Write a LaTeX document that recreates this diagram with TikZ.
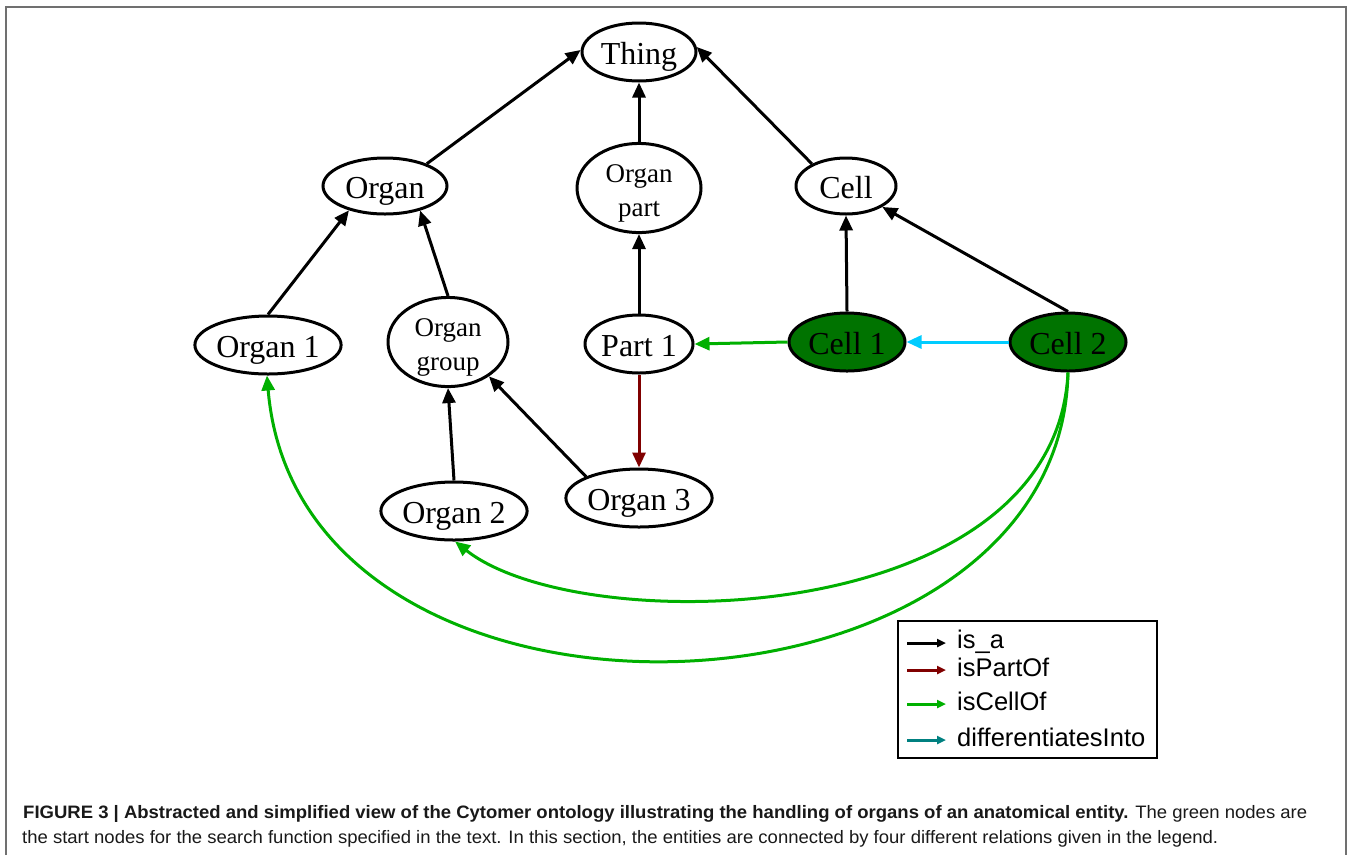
\documentclass[tikz,border=0pt]{standalone}
\usepackage{fontspec}
\setmainfont{Liberation Serif}
\newfontfamily\legfont{Liberation Sans}
\newfontfamily\capfont{Liberation Sans}
\usetikzlibrary{arrows.meta,shapes.geometric}
\definecolor{framegray}{RGB}{112,112,112}
\definecolor{cellgreen}{RGB}{0,115,0}
\definecolor{relgreen}{RGB}{0,176,0}
\definecolor{relred}{RGB}{128,0,0}
\definecolor{relcyan}{RGB}{0,204,255}
\definecolor{relteal}{RGB}{0,128,128}
\definecolor{captext}{RGB}{25,25,25}
\newlength\capw
\newcommand\capA{\textbf{FIGURE 3 | Abstracted and simplified view of the Cytomer ontology illustrating the handling of organs of an anatomical entity.} The green nodes are}
\newcommand\capB{the start nodes for the search function specified in the text. In this section, the entities are connected by four different relations given in the legend.}
\newcommand\capsize{\capfont\fontsize{18}{22}\selectfont}

\begin{document}
\settowidth{\capw}{\capsize\capA}%
\pgfmathsetmacro\capfac{1284/\capw}%
\begin{tikzpicture}[x=1pt,y=-1pt,
  ent/.style={ellipse,draw=black,line width=3pt,inner sep=0pt,
    font=\fontsize{32}{36}\selectfont,text height=24pt,text depth=0pt},
  ent2/.style={ent,align=center,font=\fontsize{27}{34}\selectfont,
    text height=60pt,text depth=3pt},
  startent/.style={ent,fill=cellgreen},
  rel/.style={line width=3pt,-{Triangle[length=15pt,width=13pt]}},
  isa/.style={rel,draw=black},
  partof/.style={rel,draw=relred},
  cellof/.style={rel,draw=relgreen},
  diffinto/.style={rel,draw=relcyan},
  legarrow/.style={line width=3pt,-{Triangle[length=9pt,width=8pt]}},
  legtext/.style={anchor=base west,inner sep=0pt,
    font=\legfont\fontsize{25.5}{30}\selectfont},
  captext/.style={anchor=base west,inner sep=0pt,text=captext}
]
\useasboundingbox (0,0) rectangle (1348,855);

% outer frame, open at the bottom
\draw[framegray,line width=2pt] (6,855) -- (6,7) -- (1346,7) -- (1346,855);

% entities
\node[ent,minimum width=114pt,minimum height=58pt] (thing) at (639,52) {Thing};
\node[ent,minimum width=124pt,minimum height=56pt] (organ) at (385,186) {Organ};
\node[ent2,minimum width=124pt,minimum height=86pt] (organpart) at (639,188) {Organ\\part};
\node[ent,minimum width=100pt,minimum height=56pt] (cell) at (846,186) {Cell};
\node[ent,minimum width=142pt,minimum height=58pt] (organ1) at (268,345) {Organ 1};
\node[ent2,minimum width=120pt,minimum height=84pt] (organgroup) at (448,342) {Organ\\group};
\node[ent,minimum width=108pt,minimum height=58pt] (part1) at (639,344) {Part 1};
\node[startent,minimum width=116pt,minimum height=58pt] (cell1) at (847,342) {Cell 1};
\node[startent,minimum width=116pt,minimum height=58pt] (cell2) at (1068,342) {Cell 2};
\node[ent,minimum width=140pt,minimum height=58pt] (organ2) at (454,511) {Organ 2};
\node[ent,minimum width=138pt,minimum height=58pt] (organ3) at (639,498) {Organ 3};

% is_a relations
\draw[isa] (organ.28) -- (thing.178);
\draw[isa] (organpart.north) -- (thing.south);
\draw[isa] (cell.147) -- (thing.5);
\draw[isa] (organ1.north) -- (organ.214);
\draw[isa] (organgroup.north) -- (organ.-35);
\draw[isa] (part1.north) -- (organpart.south);
\draw[isa] (cell1.north) -- (cell.south);
\draw[isa] (cell2.north) -- (cell.-30);
\draw[isa] (organ2.north) -- (organgroup.south);
\draw[isa] (organ3.158) -- (organgroup.-40);

% isPartOf
\draw[partof] (part1.south) -- (organ3.north);

% differentiatesInto
\draw[diffinto] (cell2.west) -- (cell1.east);

% isCellOf
\draw[cellof] (cell1.west) -- (part1.east);
\draw[cellof] (cell2.south) .. controls (1055,630) and (580,640) .. (organ2.-88);
\draw[cellof] (cell2.south) .. controls (1060,740) and (300,770) .. (organ1.-92);

% legend
\node[draw=black,line width=2pt,minimum width=259pt,minimum height=137pt,
  anchor=north west,inner sep=0pt] (legend) at (897,620) {};
\coordinate (la1) at (907,643); \coordinate (lb1) at (946,643);
\coordinate (la2) at (907,670); \coordinate (lb2) at (946,670);
\coordinate (la3) at (907,704); \coordinate (lb3) at (946,704);
\coordinate (la4) at (907,740); \coordinate (lb4) at (946,740);
\draw[legarrow,draw=black] (la1) -- (lb1);
\draw[legarrow,draw=relred] (la2) -- (lb2);
\draw[legarrow,draw=relgreen] (la3) -- (lb3);
\draw[legarrow,draw=relteal] (la4) -- (lb4);
\node[legtext] (lt1) at (957,648) {is\_a};
\node[legtext] (lt2) at (957,676) {isPartOf};
\node[legtext] (lt3) at (957,710) {isCellOf};
\node[legtext] (lt4) at (957,746) {differentiatesInto};

% caption, condensed to the frame width
\node[captext] (cap1) at (23,818) {\scalebox{\capfac}[1]{\capsize\capA}};
\node[captext] (cap2) at (22,843) {\scalebox{\capfac}[1]{\capsize\capB}};
\end{tikzpicture}
\end{document}
